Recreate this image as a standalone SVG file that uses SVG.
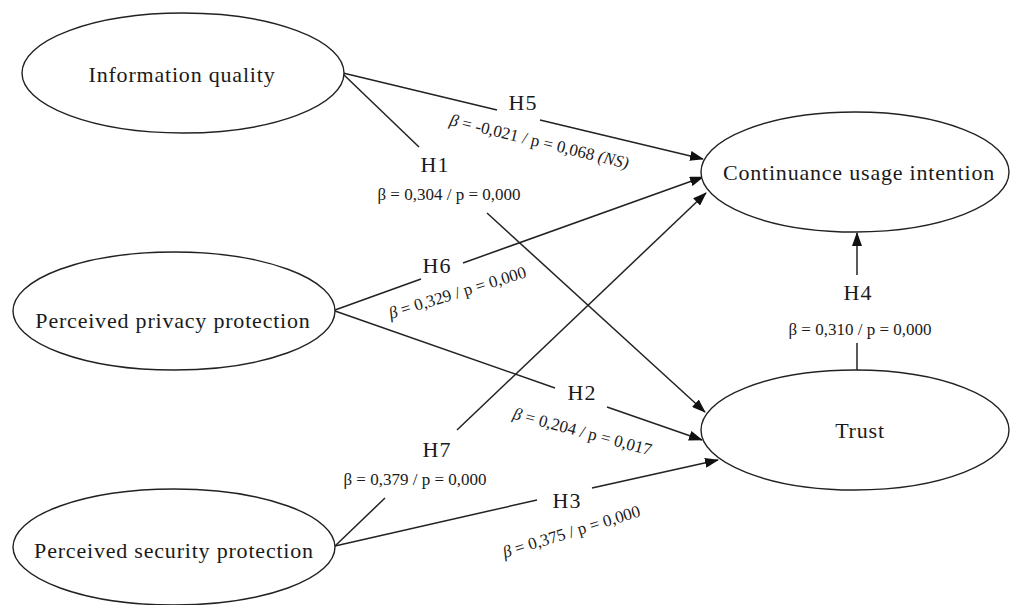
<svg xmlns="http://www.w3.org/2000/svg" width="1010" height="605" viewBox="0 0 1010 605">
<style>
.node{fill:#fff;stroke:#222;stroke-width:1.4}
.nt{font-family:"Liberation Serif",serif;font-size:22px;fill:#1a1a1a;text-anchor:middle;letter-spacing:0.8px}
.h{font-family:"Liberation Serif",serif;font-size:22px;fill:#1a1a1a;text-anchor:middle;letter-spacing:1px}
.b{font-family:"Liberation Serif",serif;font-size:17px;fill:#1a1a1a;text-anchor:middle}
.c{stroke:#222;stroke-width:1.5;fill:none}
.a{marker-end:url(#arr)}
</style>
<defs>
<marker id="arr" markerUnits="userSpaceOnUse" markerWidth="14" markerHeight="10" refX="13" refY="5" orient="auto">
<path d="M0,0 L14,5 L0,10 z" fill="#111"/>
</marker>
</defs>
<rect width="1010" height="605" fill="#fff"/>
<g id="connectors">
<line class="c" x1="343" y1="74" x2="419" y2="147"/>
<line class="c a" x1="487" y1="213" x2="705" y2="412"/>
<line class="c" x1="343" y1="73" x2="497" y2="110"/>
<line class="c a" x1="540" y1="120" x2="703" y2="159"/>
<line class="c" x1="335" y1="310" x2="421" y2="279"/>
<line class="c a" x1="463" y1="263" x2="703" y2="177"/>
<line class="c" x1="335" y1="311" x2="555" y2="388"/>
<line class="c a" x1="607" y1="407" x2="702" y2="440"/>
<line class="c" x1="335" y1="546" x2="385" y2="498"/>
<line class="c a" x1="457" y1="430" x2="706" y2="193"/>
<line class="c" x1="335" y1="546" x2="537" y2="500"/>
<line class="c a" x1="592" y1="488" x2="718" y2="460"/>
<line class="c" x1="857" y1="370" x2="857" y2="343"/>
<line class="c a" x1="857" y1="275" x2="857" y2="233"/>
</g>
<g id="labels">
<text class="h" x="523" y="110">H5</text>
<text class="b" transform="translate(538,147) rotate(13.8)"><tspan font-style="italic">β</tspan> = -0,021 / p = 0,068 <tspan font-style="italic">(NS)</tspan></text>
<text class="h" x="435" y="172">H1</text>
<text class="b" x="449" y="200">β = 0,304 / p = 0,000</text>
<text class="h" x="437" y="273">H6</text>
<text class="b" transform="translate(459,298) rotate(-17)"><tspan font-style="italic">β</tspan> = 0,329 / p = 0,000</text>
<text class="h" x="582" y="400">H2</text>
<text class="b" transform="translate(581,437) rotate(15)"><tspan font-style="italic">β</tspan> = 0,204 / p = 0,017</text>
<text class="h" x="437" y="457">H7</text>
<text class="b" x="415" y="485">β = 0,379 / p = 0,000</text>
<text class="h" x="567" y="508">H3</text>
<text class="b" transform="translate(573,537) rotate(-17)"><tspan font-style="italic">β</tspan> = 0,375 / p = 0,000</text>
<text class="h" x="858" y="300">H4</text>
<text class="b" x="860" y="335">β = 0,310 / p = 0,000</text>
</g>
<g id="node-iq">
<ellipse class="node" cx="183" cy="73" rx="161" ry="60"/>
<text class="nt" x="182" y="82">Information quality</text>
</g>
<g id="node-ppp">
<ellipse class="node" cx="174" cy="311" rx="161" ry="59"/>
<text class="nt" x="173" y="328">Perceived privacy protection</text>
</g>
<g id="node-psp">
<ellipse class="node" cx="174" cy="547" rx="161" ry="58"/>
<text class="nt" x="174" y="558">Perceived security protection</text>
</g>
<g id="node-cui">
<ellipse class="node" cx="855" cy="172" rx="154" ry="60"/>
<text class="nt" x="859" y="180">Continuance usage intention</text>
</g>
<g id="node-trust">
<ellipse class="node" cx="855" cy="430" rx="154" ry="60"/>
<text class="nt" x="860" y="438">Trust</text>
</g>
</svg>
